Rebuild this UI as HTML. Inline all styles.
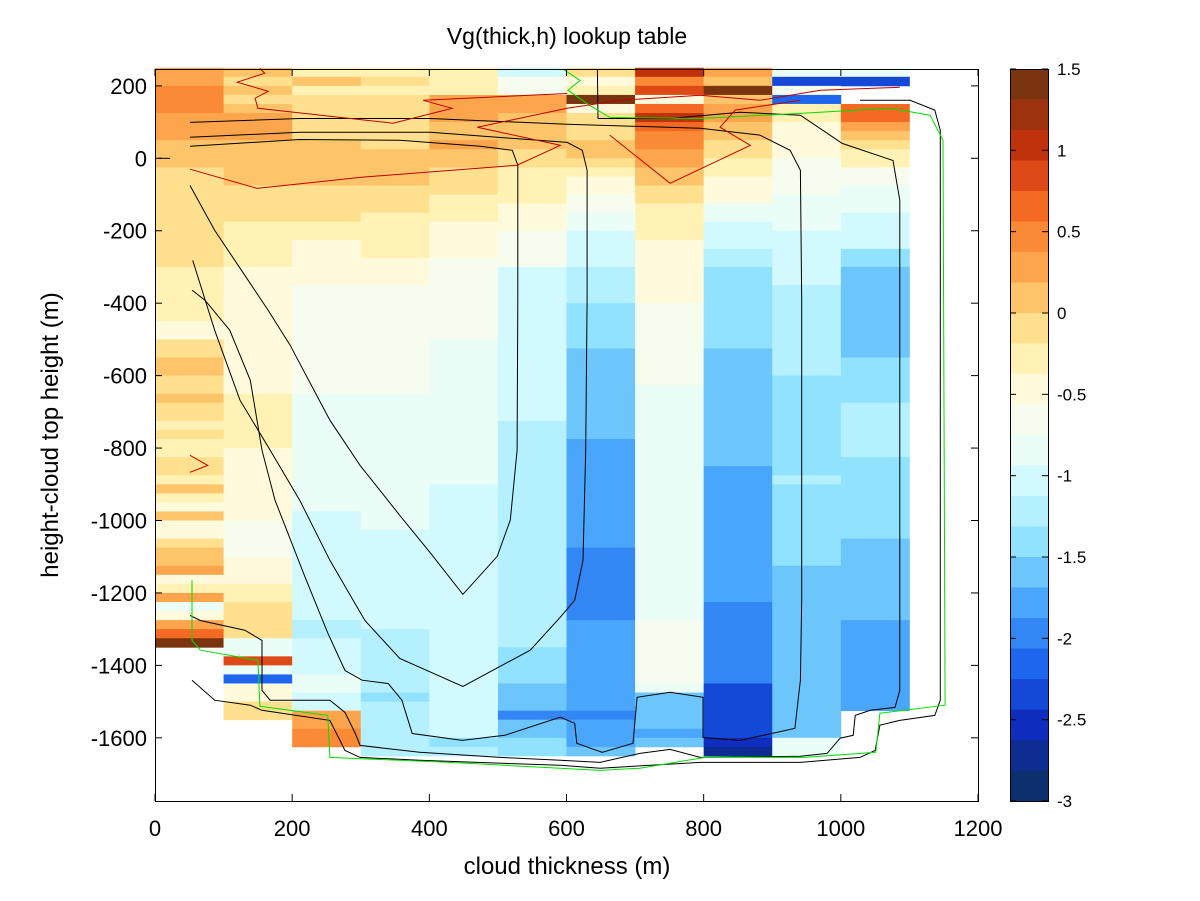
<!DOCTYPE html>
<html><head><meta charset="utf-8"><style>
html,body{margin:0;padding:0;background:#fff;}
svg{display:block;font-family:"Liberation Sans",sans-serif;}
</style></head><body>
<svg id="chart" width="1200" height="901" viewBox="0 0 1200 901">
<rect x="0" y="0" width="1200" height="901" fill="#fff"/>
<text x="567" y="44" font-size="23" text-anchor="middle">Vg(thick,h) lookup table</text>
<g id="cells"></g>
<g id="contours"></g>
<rect x="155.5" y="69.5" width="823" height="732" fill="none" stroke="#000" stroke-width="1"/>
<g id="xaxis"></g>
<g id="yaxis"></g>
<text x="567" y="874" font-size="24" text-anchor="middle">cloud thickness (m)</text>
<text transform="translate(58,435) rotate(-90)" font-size="24" text-anchor="middle">height-cloud top height (m)</text>
<g id="cbar"></g>
</svg>
<script>
const colorBands=["#7a3510","#9e320e","#c0320c","#de4a17","#f56a22","#fb8a36","#fda54c","#fdc46a","#fee08f","#fff2b4","#fffadc","#f6fdee","#eafdf6","#d2f9fd","#b4f0fd","#90e2fe","#6cc6fc","#4aa6fb","#3287f5","#1f66ef","#1449d8","#0f2ebf","#0e2d93","#0c2f6e"];
const xTicks=[0,200,400,600,800,1000,1200];
const yTicks=[200,0,-200,-400,-600,-800,-1000,-1200,-1400,-1600];
const cbTicks=[1.5,1,0.5,0,-0.5,-1,-1.5,-2,-2.5,-3];
const cbTickLabels=["1.5","1","0.5","0","-0.5","-1","-1.5","-2","-2.5","-3"];
const colLeft=[0,100,200,300,400,500,600,700,800,900,1000];
const colWidth=100;
const col0=[[250,0.28],[200,0.47],[125,0.28],[50,0.09],[-25,-0.09],[-300,-0.28],[-450,-0.47],[-500,-0.09],[-550,0.09],[-600,-0.09],[-650,0.09],[-675,-0.09],[-725,-0.28],[-750,-0.09],[-775,-0.28],[-825,-0.09],[-875,-0.28],[-900,0.09],[-925,-0.28],[-950,-0.47],[-975,0.09],[-1000,-0.47],[-1050,-0.09],[-1075,0.09],[-1125,0.28],[-1150,-0.47],[-1175,-0.28],[-1200,0.28],[-1225,-0.84],[-1250,-0.47],[-1275,0.28],[-1300,0.66],[-1325,1.41],[-1350,null]];
const col1=[[250,0.09],[225,-0.09],[200,0.09],[175,-0.09],[150,0.09],[125,0.28],[50,0.09],[-75,-0.09],[-175,-0.28],[-300,-0.47],[-650,-0.28],[-800,-0.47],[-1000,-0.66],[-1100,-0.47],[-1175,-0.28],[-1225,-0.09],[-1325,-0.84],[-1375,0.84],[-1400,-0.84],[-1425,-2.16],[-1450,-0.47],[-1500,-0.09],[-1550,null]];
const col2=[[250,-0.28],[225,0.09],[200,-0.28],[175,-0.09],[50,0.09],[-75,-0.09],[-175,-0.28],[-225,-0.47],[-350,-0.66],[-650,-0.84],[-975,-1.03],[-1275,-1.22],[-1325,-1.03],[-1425,-0.84],[-1475,-1.03],[-1525,0.28],[-1575,0.47],[-1625,null]];
const col3=[[250,-0.28],[225,-0.09],[200,-0.28],[175,-0.09],[25,0.09],[-75,-0.09],[-150,-0.28],[-275,-0.47],[-350,-0.66],[-650,-0.84],[-1025,-1.03],[-1300,-1.22],[-1475,-1.41],[-1500,-1.22],[-1650,null]];
const col4=[[250,-0.28],[175,0.28],[100,0.09],[50,0.28],[25,0.09],[-25,-0.09],[-100,-0.28],[-175,-0.47],[-275,-0.66],[-500,-0.84],[-900,-1.03],[-1600,-1.41],[-1625,-1.22],[-1650,null]];
const col5=[[250,-1.03],[225,-0.66],[175,0.28],[125,0.09],[25,-0.09],[-25,-0.28],[-125,-0.47],[-200,-0.66],[-300,-1.03],[-725,-1.22],[-1350,-1.41],[-1450,-1.59],[-1525,-1.97],[-1550,-1.59],[-1600,-1.41],[-1650,null]];
const col6=[[250,-0.09],[225,-0.47],[200,-0.28],[175,1.41],[150,-0.47],[125,-0.09],[50,0.09],[0,-0.09],[-25,-0.28],[-50,-0.47],[-100,-0.66],[-150,-0.84],[-200,-1.03],[-300,-1.22],[-400,-1.41],[-525,-1.59],[-775,-1.78],[-1075,-1.97],[-1275,-1.78],[-1525,-1.97],[-1550,-1.78],[-1625,-1.59],[-1650,null]];
const col7=[[250,1.03],[225,0.47],[200,0.84],[175,-0.47],[150,0.66],[125,1.03],[100,0.66],[75,0.47],[25,0.28],[-25,0.09],[-75,-0.09],[-125,-0.28],[-225,-0.47],[-400,-0.66],[-625,-0.84],[-1275,-0.66],[-1450,-0.84],[-1475,-1.59],[-1575,-1.78],[-1600,-1.59],[-1625,null]];
const col8=[[250,0.28],[225,0.09],[200,1.41],[175,0.09],[150,0.28],[100,0.09],[50,-0.09],[0,-0.28],[-50,-0.47],[-125,-0.84],[-175,-1.03],[-250,-1.22],[-300,-1.41],[-525,-1.59],[-850,-1.78],[-1225,-1.97],[-1450,-2.34],[-1600,-2.53],[-1625,-2.72],[-1650,null]];
const col9=[[250,-0.84],[225,-2.34],[200,-0.66],[175,-2.16],[150,-0.28],[100,-0.47],[0,-0.66],[-100,-0.84],[-200,-1.03],[-350,-1.22],[-600,-1.41],[-875,-1.22],[-900,-1.41],[-1125,-1.59],[-1600,-0.84],[-1650,null]];
const col10=[[250,-0.84],[225,-2.34],[200,null],[150,0.66],[100,0.28],[75,0.09],[50,-0.09],[25,-0.28],[-25,-0.66],[-75,-0.84],[-150,-1.03],[-250,-1.41],[-300,-1.59],[-550,-1.41],[-675,-1.22],[-825,-1.41],[-1050,-1.59],[-1275,-1.78],[-1525,null]];
const columns=[col0,col1,col2,col3,col4,col5,col6,col7,col8,col9,col10];
const contourK1=[[51,33],[211,52],[357,50],[474,33],[521,22],[529,-19],[529,-392],[528,-806],[518,-999],[499,-1099],[449,-1204],[401,-1088],[357,-986],[299,-848],[255,-723],[197,-516],[165,-420],[131,-323],[87,-199],[51,-75]];
const contourK2=[[51,58],[211,72],[401,72],[601,44],[623,22],[630,-33],[630,-392],[628,-806],[624,-1110],[612,-1220],[591,-1267],[547,-1358],[449,-1458],[357,-1381],[306,-1276],[255,-1110],[211,-944],[168,-806],[124,-668],[87,-475],[55,-282]];
const contourK3=[[51,99],[211,110],[401,110],[601,94],[795,83],[882,64],[926,22],[941,-33],[943,-392],[943,-1220],[941,-1441],[933,-1574],[853,-1607],[799,-1599],[799,-1488],[751,-1474],[703,-1488],[697,-1615],[652,-1640],[615,-1615],[612,-1560],[591,-1543],[510,-1593],[448,-1607],[375,-1588],[360,-1496],[340,-1450],[302,-1441],[277,-1414],[252,-1311],[219,-1157],[175,-944],[156,-806],[139,-613],[109,-475],[73,-392],[54,-364]];
const contourK4=[[645,246],[646,110],[751,110],[853,127],[941,119],[1002,41],[1076,-6],[1086,-116],[1086,-1469],[1079,-1516],[1043,-1524],[1021,-1538],[1018,-1593],[999,-1601],[980,-1643],[941,-1651],[795,-1654],[751,-1632],[707,-1643],[649,-1668],[591,-1662],[503,-1654],[386,-1640],[299,-1621],[292,-1588],[277,-1530],[255,-1496],[168,-1496],[156,-1469],[156,-1331],[131,-1303],[66,-1276],[51,-1262]];
const contourK5=[[1028,160],[1101,160],[1137,133],[1145,77],[1145,-1496],[1137,-1538],[1086,-1552],[1057,-1565],[1050,-1635],[1028,-1654],[941,-1668],[795,-1668],[722,-1676],[649,-1684],[591,-1676],[386,-1662],[299,-1654],[277,-1635],[255,-1552],[156,-1524],[139,-1510],[87,-1496],[54,-1441]];
const contourGreen=[[595,246],[620,215],[602,188],[634,146],[663,113],[795,110],[941,124],[1072,138],[1130,119],[1149,50],[1152,-1510],[1057,-1532],[1051,-1640],[948,-1654],[802,-1654],[707,-1684],[649,-1690],[430,-1668],[255,-1654],[252,-1538],[153,-1513],[150,-1386],[66,-1358],[54,-1331],[54,-1165]];
const contourR1=[[51,-30],[149,-83],[303,-52],[528,-19],[591,36],[470,86],[601,138],[678,160],[795,174],[882,160],[970,188],[1086,196]];
const contourR2=[[153,248],[160,235],[120,210],[165,185],[146,166],[150,138],[347,97],[433,138],[391,160],[601,179]];
const contourR3=[[663,64],[751,-69],[868,36],[824,86],[846,133],[941,160]];
const contourR5=[[51,-820],[77,-848],[51,-867]];
const contourDash=[[4,0],[22,0]];

const NS="http://www.w3.org/2000/svg";
const X0=155,Y0=158.3,KX=823/1200,KY=0.3622;
function xs(m){return X0+m*KX;}
function ys(m){return Y0-m*KY;}
function colorFor(v){let i=Math.floor((1.5-v)/0.1875);if(i<0)i=0;if(i>23)i=23;return colorBands[i];}
function mk(tag,attrs,parent){const e=document.createElementNS(NS,tag);for(const k in attrs)e.setAttribute(k,attrs[k]);parent.appendChild(e);return e;}

const cells=document.getElementById('cells');
columns.forEach((segs,ci)=>{
  for(let s=0;s<segs.length-1;s++){
    const v=segs[s][1];if(v===null)continue;
    const x1=xs(colLeft[ci]),x2=xs(colLeft[ci]+colWidth);
    const y1=ys(segs[s][0]),y2=ys(segs[s+1][0]);
    const r=mk('rect',{x:x1.toFixed(2),y:y1.toFixed(2),width:(x2-x1+0.4).toFixed(2),height:(y2-y1+0.4).toFixed(2),fill:colorFor(v)},cells);
    
    
  }
});

const cg=document.getElementById('contours');
const lines=[[contourK1,'#000'],[contourK2,'#000'],[contourK3,'#000'],[contourK4,'#000'],[contourK5,'#000'],[contourGreen,'#00e000'],[contourR1,'#c00000'],[contourR2,'#c00000'],[contourR3,'#c00000'],[contourR5,'#c00000'],[contourDash,'#000']];
lines.forEach(([pts,col])=>{
  const p=mk('polyline',{points:pts.map(q=>xs(q[0]).toFixed(1)+','+ys(q[1]).toFixed(1)).join(' '),fill:'none',stroke:col,'stroke-width':1},cg);
  
  
});

const xa=document.getElementById('xaxis');
xTicks.forEach(t=>{
  const x=xs(t);
  const l=mk('line',{x1:x,y1:801,x2:x,y2:794,stroke:'#000'},xa);
  
  
  const l2=mk('line',{x1:x,y1:69,x2:x,y2:76,stroke:'#000'},xa);
  
  
  const tx=mk('text',{x:x,y:836,'font-size':22,'text-anchor':'middle'},xa);
  tx.textContent=String(t);
  
  
});
const ya=document.getElementById('yaxis');
yTicks.forEach(t=>{
  const y=ys(t);
  const l=mk('line',{x1:155,y1:y,x2:162,y2:y,stroke:'#000'},ya);
  
  
  const l2=mk('line',{x1:978,y1:y,x2:971,y2:y,stroke:'#000'},ya);
  
  
  const tx=mk('text',{x:147,y:y+8,'font-size':22,'text-anchor':'end'},ya);
  tx.textContent=String(t);
  
  
});

const cb=document.getElementById('cbar');
const CB_T=69,CB_B=801,CB_X=1010,CB_W=38;
function cy(v){return CB_T+(1.5-v)/4.5*(CB_B-CB_T);}
colorBands.forEach((c,i)=>{
  const y1=CB_T+i*(CB_B-CB_T)/24;
  const r=mk('rect',{x:CB_X,y:y1.toFixed(2),width:CB_W,height:((CB_B-CB_T)/24+0.5).toFixed(2),fill:c},cb);
  
  
});
const fr=mk('rect',{x:CB_X+0.5,y:CB_T+0.5,width:CB_W,height:CB_B-CB_T,fill:'none',stroke:'#000'},cb);


cbTicks.forEach((t,i)=>{
  const y=cy(t);
  const a=mk('line',{x1:CB_X,y1:y,x2:CB_X+6,y2:y,stroke:'#000'},cb);
  
  
  const b=mk('line',{x1:CB_X+CB_W,y1:y,x2:CB_X+CB_W-6,y2:y,stroke:'#000'},cb);
  
  
  const tx=mk('text',{x:1057,y:y+6,'font-size':17},cb);
  tx.textContent=cbTickLabels[i];
  
  
});
</script>
</body></html>
